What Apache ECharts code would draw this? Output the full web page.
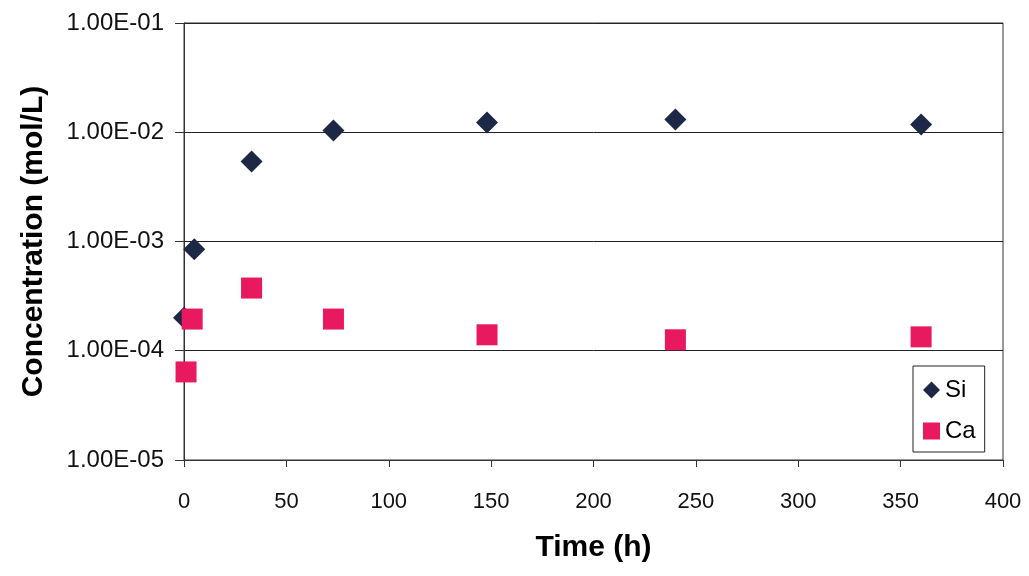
<!DOCTYPE html>
<html>
<head>
<meta charset="utf-8">
<script src="https://cdn.jsdelivr.net/npm/echarts@6/dist/echarts.min.js"></script>
<style>
  html, body { margin: 0; padding: 0; background: #fff; }
  #chart { width: 1029px; height: 576px; }
</style>
</head>
<body>
<div id="chart"></div>
<script>
// Si / Ca concentration vs time, log y axis
const siTime = [0, 5, 33, 73, 148, 240, 360];
const siConc = [2.0e-4, 8.5e-4, 5.4e-3, 1.04e-2, 1.23e-2, 1.31e-2, 1.18e-2];
const caTime = [1, 4, 33, 73, 148, 240, 360];
const caConc = [6.4e-5, 1.95e-4, 3.75e-4, 1.95e-4, 1.4e-4, 1.26e-4, 1.34e-4];

const FONT = "Liberation Sans, Arial, sans-serif";
const pair = (xs, ys) => xs.map((x, i) => [x, ys[i]]);
const sci = (v) => {
  const e = Math.round(Math.log10(v));
  const m = v / Math.pow(10, e);
  const es = (e < 0 ? "-" : "+") + String(Math.abs(e)).padStart(2, "0");
  return m.toFixed(2) + "E" + es;
};

const chart = echarts.init(document.getElementById("chart"), null, { renderer: "canvas" });
chart.setOption({
  animation: false,
  backgroundColor: "#fff",
  grid: { left: 184, right: 26, top: 23, bottom: 116, show: true, borderColor: "#333", borderWidth: 1 },
  xAxis: {
    type: "value", min: 0, max: 400, interval: 50,
    name: "Time (h)", nameLocation: "middle", nameGap: 73,
    nameTextStyle: { fontFamily: FONT, fontSize: 30, fontWeight: "bold", color: "#000" },
    axisLine: { lineStyle: { color: "#333" } },
    axisTick: { show: true, length: 7, lineStyle: { color: "#333" } },
    axisLabel: { fontFamily: FONT, fontSize: 22, color: "#111", margin: 31 },
    splitLine: { show: false },
  },
  yAxis: {
    type: "log", logBase: 10, min: 1e-5, max: 1e-1,
    name: "Concentration (mol/L)", nameLocation: "middle", nameGap: 135,
    nameTextStyle: { fontFamily: FONT, fontSize: 30, fontWeight: "bold", color: "#000" },
    axisLine: { lineStyle: { color: "#333" } },
    axisTick: { show: true, length: 9, lineStyle: { color: "#333" } },
    axisLabel: { fontFamily: FONT, fontSize: 24, color: "#111", margin: 20, formatter: sci },
    splitLine: { show: true, lineStyle: { color: "#222", width: 1 } },
    minorTick: { show: false },
  },
  legend: {
    orient: "vertical", left: 913, top: 366,
    padding: [12, 9, 9, 10], itemGap: 17,
    borderColor: "#222", borderWidth: 1, backgroundColor: "#fff",
    itemWidth: 17, itemHeight: 17,
    textStyle: { fontFamily: FONT, fontSize: 24, color: "#000" },
    data: [{ name: "Si", icon: "diamond" }, { name: "Ca", icon: "rect" }],
  },
  series: [
    { name: "Si", type: "scatter", symbol: "diamond", symbolSize: 22, itemStyle: { color: "#1c2846", opacity: 1 }, data: pair(siTime, siConc), z: 2 },
    { name: "Ca", type: "scatter", symbol: "rect", symbolSize: 21, itemStyle: { color: "#e8195e", opacity: 1 }, data: pair(caTime, caConc), z: 3 },
  ],
});
</script>
</body>
</html>
